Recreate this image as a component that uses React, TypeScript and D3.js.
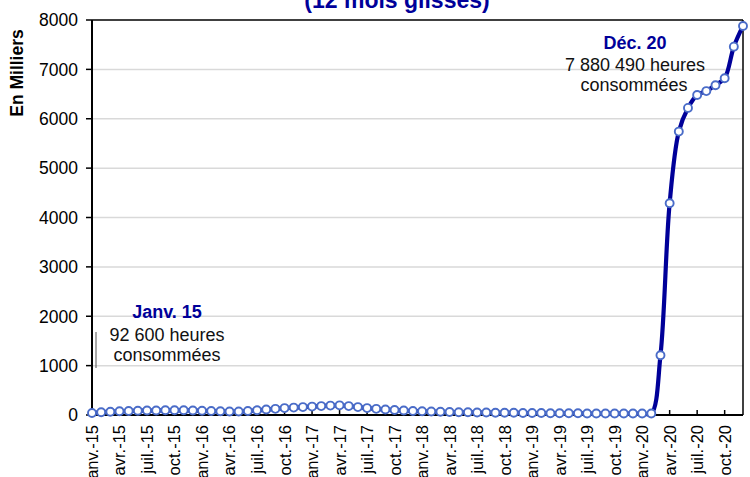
import React from "react";
import * as d3 from "d3";

const monthNames = ["janv.", "févr.", "mars", "avr.", "mai", "juin", "juil.", "août", "sept.", "oct.", "nov.", "déc."];
const years = ["15", "16", "17", "18", "19", "20"];
const categories: string[] = years.flatMap((y) => monthNames.map((m) => `${m}-${y}`));

// Heures consommées, 12 mois glissés (en milliers)
const values2015 = [40, 55, 65, 75, 80, 85, 90, 90, 95, 95, 95, 90];
const values2016 = [85, 80, 75, 70, 70, 80, 95, 110, 125, 140, 150, 160];
const values2017 = [170, 180, 190, 195, 180, 160, 140, 125, 110, 100, 90, 80];
const values2018 = [75, 70, 65, 60, 55, 55, 50, 50, 45, 45, 45, 40];
const values2019 = [40, 40, 35, 35, 35, 35, 30, 30, 30, 30, 30, 30];
const values2020 = [30, 30, 1210, 4290, 5740, 6220, 6480, 6560, 6680, 6820, 7460, 7880];
const values = [...values2015, ...values2016, ...values2017, ...values2018, ...values2019, ...values2020];

const yTicks = [0, 1000, 2000, 3000, 4000, 5000, 6000, 7000, 8000];
const titleText = "(12 mois glissés)";
const yAxisTitle = "En Milliers";
const startNote = ["Janv. 15", "92 600 heures", "consommées"];
const endNote = ["Déc. 20", "7 880 490 heures", "consommées"];

const W = 750;
const H = 477;
const FONT = "'Liberation Sans', Arial, Helvetica, sans-serif";
const NAVY = "#000099";

export default function App() {
  const left = 92;
  const right = 743;
  const top = 20;
  const bottom = 415;

  const x = d3.scalePoint<number>().domain(d3.range(categories.length)).range([left, right]);
  const y = d3.scaleLinear().domain([0, 8000]).range([bottom, top]);

  const line = d3
    .line<number>()
    .x((_, i) => x(i) as number)
    .y((d) => y(d))
    .curve(d3.curveCatmullRom.alpha(0.5));

  const tickIdx = d3.range(0, categories.length, 3);

  return (
    <svg
      width={W}
      height={H}
      style={{ position: "absolute", left: 0, top: 0, background: "#fff" }}
      fontFamily={FONT}
    >
      <rect x={0} y={0} width={W} height={H} fill="#fff" />
      {/* title */}
      <text x={397} y={8} textAnchor="middle" fontWeight="bold" fontSize={23} fill={NAVY}>
        {titleText}
      </text>

      {/* gridlines */}
      {yTicks
        .filter((t) => t > 0 && t < 8000)
        .map((t) => (
          <line key={t} x1={left} x2={right} y1={y(t)} y2={y(t)} stroke="#d9d9d9" strokeWidth={1.5} />
        ))}

      {/* plot border top & right */}
      <line x1={left} x2={right} y1={top} y2={top} stroke="#000" strokeWidth={1.5} />
      <line x1={right} x2={right} y1={top} y2={bottom} stroke="#000" strokeWidth={1.5} />

      {/* y axis */}
      <line x1={left} x2={left} y1={top} y2={bottom + 1} stroke="#000" strokeWidth={2} />
      {yTicks.map((t) => (
        <g key={t}>
          <line x1={left - 6} x2={left} y1={y(t)} y2={y(t)} stroke="#000" strokeWidth={1.5} />
          <text x={78} y={y(t)} dy="0.36em" textAnchor="end" fontSize={17.5} fill="#000">
            {t}
          </text>
        </g>
      ))}
      <text
        transform={`translate(23,${73}) rotate(-90)`}
        textAnchor="middle"
        fontWeight="bold"
        fontSize={17.5}
        fill="#000"
      >
        {yAxisTitle}
      </text>

      {/* x axis */}
      <line x1={left - 1} x2={right} y1={bottom} y2={bottom} stroke="#000" strokeWidth={2} />
      {tickIdx.map((i) => (
        <g key={i}>
          <line x1={x(i)} x2={x(i)} y1={bottom} y2={bottom - 5} stroke="#000" strokeWidth={1.5} />
          <text
            transform={`translate(${x(i)},${425}) rotate(-90)`}
            dy="0.36em"
            textAnchor="end"
            fontSize={16.5}
            fill="#000"
          >
            {categories[i]}
          </text>
        </g>
      ))}

      {/* series */}
      <path d={line(values) || ""} fill="none" stroke={NAVY} strokeWidth={4.2} strokeLinejoin="round" />
      {values.map((v, i) => (
        <circle key={i} cx={x(i)} cy={y(v)} r={4} fill="#fff" stroke="#4a6cc8" strokeWidth={1.9} />
      ))}

      {/* annotations */}
      <line x1={96} x2={96} y1={332} y2={368} stroke="#555" strokeWidth={1} />
      <text x={167} y={318} textAnchor="middle" fontWeight="bold" fontSize={18} fill={NAVY}>
        {startNote[0]}
      </text>
      <text x={167} y={341} textAnchor="middle" fontSize={18} fill="#111">
        {startNote[1]}
      </text>
      <text x={167} y={361} textAnchor="middle" fontSize={18} fill="#111">
        {startNote[2]}
      </text>

      <text x={635} y={49} textAnchor="middle" fontWeight="bold" fontSize={18} fill={NAVY}>
        {endNote[0]}
      </text>
      <text x={635} y={71} textAnchor="middle" fontSize={18} fill="#111">
        {endNote[1]}
      </text>
      <text x={634} y={91} textAnchor="middle" fontSize={18} fill="#111">
        {endNote[2]}
      </text>
    </svg>
  );
}
